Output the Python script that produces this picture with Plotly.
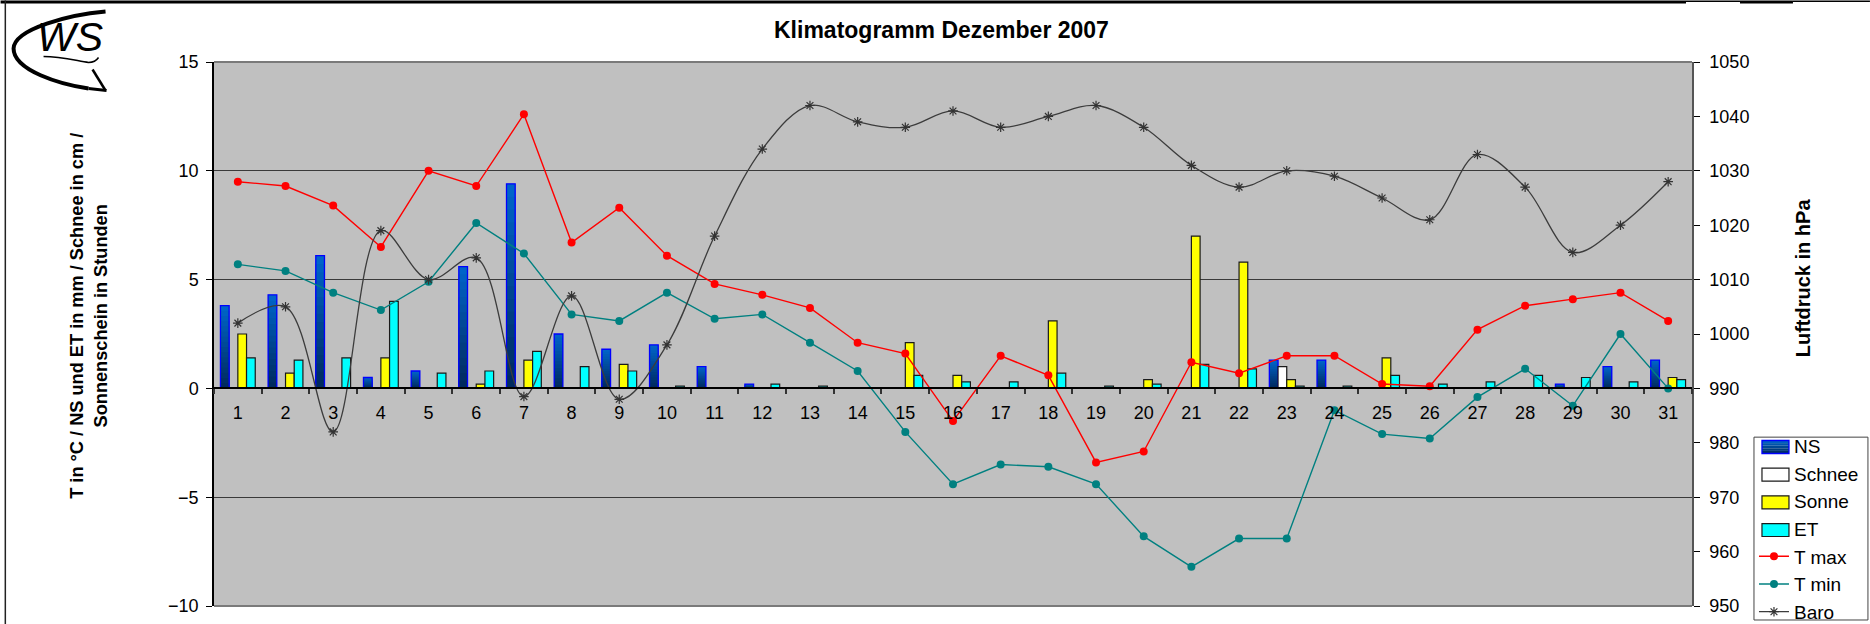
import plotly.graph_objects as go

days = [str(d) for d in range(1, 32)]
ns = [3.8, 4.3, 6.1, 0.5, 0.8, 5.6, 9.4, 2.5, 1.8, 2.0, 1.0, 0.2, 0, 0, 0, 0, 0, 0, 0, 0, 0, 0, 1.3, 1.3, 0, 0, 0, 0, 0.2, 1.0, 1.3]
schnee = [0]*22 + [1.0] + [0]*8
sonne = [2.5, 0.7, 0, 1.4, 0, 0.2, 1.3, 0, 1.1, 0, 0, 0, 0, 0, 2.1, 0.6, 0, 3.1, 0, 0.4, 7.0, 5.8, 0.4, 0, 1.4, 0, 0, 0, 0, 0, 0.5]
et = [1.4, 1.3, 1.4, 4.0, 0.7, 0.8, 1.7, 1.0, 0.8, 0.1, 0, 0.2, 0.1, 0, 0.6, 0.3, 0.3, 0.7, 0.1, 0.2, 1.1, 0.9, 0.1, 0.1, 0.6, 0.2, 0.3, 0.6, 0.5, 0.3, 0.4]
t_max = [9.5, 9.3, 8.4, 6.5, 10.0, 9.3, 12.6, 6.7, 8.3, 6.1, 4.8, 4.3, 3.7, 2.1, 1.6, -1.5, 1.5, 0.6, -3.4, -2.9, 1.2, 0.7, 1.5, 1.5, 0.2, 0.1, 2.7, 3.8, 4.1, 4.4, 3.1]
t_min = [5.7, 5.4, 4.4, 3.6, 4.9, 7.6, 6.2, 3.4, 3.1, 4.4, 3.2, 3.4, 2.1, 0.8, -2.0, -4.4, -3.5, -3.6, -4.4, -6.8, -8.2, -6.9, -6.9, -1.0, -2.1, -2.3, -0.4, 0.9, -0.8, 2.5, 0.0]
baro = [1002, 1005, 982, 1019, 1010, 1014, 988.5, 1007, 988, 998, 1018, 1034, 1042, 1039, 1038, 1041, 1038, 1040, 1042, 1038, 1031, 1027, 1030, 1029, 1025, 1021, 1033, 1027, 1015, 1020, 1028]

W, H = 1870, 624
L, R, T, B = 213.5, 1692, 61.5, 606
TOP_BLUE = (0, 102, 204)
BOTTOM_BLUE = (0, 40, 90)
N_LAYERS = 16

FONT = "Liberation Sans, Arial, sans-serif"
fig = go.Figure()


def blend(f):
    return "rgb(%d,%d,%d)" % tuple(round(b + (t - b) * f) for t, b in zip(TOP_BLUE, BOTTOM_BLUE))


# NS bars: vertical gradient built from overlaid bars sharing one slot
for i in range(N_LAYERS):
    f = 1 - i / N_LAYERS
    fig.add_trace(go.Bar(x=days, y=[v*f for v in ns], offsetgroup="NS", showlegend=False, legendgroup="NS",
                         marker=dict(color=blend(max(f - 0.5 / N_LAYERS, 0)), line=dict(width=0)), hoverinfo="skip"))
fig.add_trace(go.Bar(x=days, y=ns, name="NS", offsetgroup="NS", showlegend=False, legendgroup="NS",
                     marker=dict(color="rgba(0,0,0,0)", line=dict(color="#0000ff", width=1.3))))

# Legend entries for the bars: transparent proxies, the wide swatches below show through
for name in ["NS", "Schnee", "Sonne", "ET"]:
    fig.add_trace(go.Bar(x=[days[0]], y=[None], name=name, offsetgroup=name, legendgroup=name,
                         marker=dict(color="rgba(0,0,0,0)", line=dict(width=0))))

for name, vals, col in [("Schnee", schnee, "#ffffff"), ("Sonne", sonne, "#ffff00"), ("ET", et, "#00ffff")]:
    fig.add_trace(go.Bar(x=days, y=vals, name=name, offsetgroup=name, showlegend=False, legendgroup=name,
                         marker=dict(color=col, line=dict(color="#1a1a1a", width=1.2))))

fig.add_trace(go.Scatter(x=days, y=t_max, name="T max", mode="lines+markers",
                         line=dict(color="#ff0000", width=1.4),
                         marker=dict(symbol="circle", size=8, color="#ff0000")))
fig.add_trace(go.Scatter(x=days, y=t_min, name="T min", mode="lines+markers",
                         line=dict(color="#008080", width=1.4),
                         marker=dict(symbol="circle", size=8, color="#008080")))
fig.add_trace(go.Scatter(x=days, y=baro, name="Baro", mode="lines+markers", yaxis="y2",
                         line=dict(color="#3c3c3c", width=1.3, shape="spline", smoothing=1.0),
                         marker=dict(symbol="asterisk-open", size=8, color="#333333",
                                     line=dict(color="#333333", width=1.2))))


def px(x):
    return (x - L) / (R - L)


def py(y):
    return (B - y) / (B - T)


def rect(x0, y0, x1, y1, color, line=None, width=0):
    return dict(type="rect", xref="paper", yref="paper", x0=px(x0), x1=px(x1), y0=py(y0), y1=py(y1),
                fillcolor=color, line=dict(width=width, color=line or color), layer="above")


def path(points, width, color="#000000"):
    parts = []
    for cmd, coords in points:
        parts.append(cmd + " " + " ".join(f"{px(a):.5f},{py(b):.5f}" for a, b in coords))
    return dict(type="path", xref="paper", yref="paper", path=" ".join(parts),
                line=dict(color=color, width=width), layer="above")


LEG_ROW = 27.7
LEG_TOP = 433
row = [LEG_TOP + LEG_ROW * (i + 0.5) for i in range(7)]
SW_L, SW_R = 1762, 1789
swatches = [rect(SW_L, row[0] - 6.5 + j * 2.6, SW_R, row[0] - 6.5 + (j + 1) * 2.6, blend(1 - (j + 0.5) / 5)) for j in range(5)]
swatches += [dict(rect(SW_L, row[0] - 6.5, SW_R, row[0] + 6.5, "rgba(0,0,0,0)", "#0000ff", 1.3))]
for i, c in [(1, "#ffffff"), (2, "#ffff00"), (3, "#00ffff")]:
    swatches.append(rect(SW_L, row[i] - 6.5, SW_R, row[i] + 6.5, c, "#1a1a1a", 1.2))

shapes = [
    # plot border
    dict(type="line", xref="paper", yref="paper", x0=0, x1=1, y0=1, y1=1, line=dict(color="#7a7a7a", width=2), layer="below"),
    dict(type="line", xref="paper", yref="paper", x0=0, x1=1, y0=0, y1=0, line=dict(color="#7a7a7a", width=2), layer="below"),
    # page frame
    rect(0, 0, 1686, 3, "#000000"),
    rect(1686, 0, 1740, 1.5, "#000000"),
    rect(1740, 0, 1793, 3, "#000000"),
    rect(1793, 0, 1870, 1.5, "#000000"),
    rect(4, 0, 5.5, 624, "#222222"),
    # logo
    path([("M", [(105, 11)]), ("C", [(70, 14), (14, 28), (13, 48)]), ("C", [(13, 70), (60, 84), (88, 88)])], 4),
    path([("M", [(88, 88)]), ("L", [(106, 90)])], 3),
    path([("M", [(92, 69)]), ("L", [(105, 90)])], 2.5),
    path([("M", [(43, 56)]), ("C", [(60, 56), (75, 60), (88, 62)]), ("C", [(92, 62), (96, 60), (98, 57)])], 1.5),
    # legend box
    rect(1754, 437, 1868, 620, "#ffffff", "#444444", 1),
] + swatches
fig.update_layout(shapes=shapes)

annots = [
    dict(text="<b>Klimatogramm Dezember 2007</b>", x=941, y=29, size=23, angle=0),
    dict(text="<b>T in °C / NS und ET in mm / Schnee in cm /<br>Sonnenschein in Stunden</b>", x=89, y=316, size=18.2, angle=-90),
    dict(text="<b>Luftdruck in hPa</b>", x=1803, y=277, size=20, angle=-90),
    dict(text="<i>WS</i>", x=69, y=36, size=41, angle=0),
]
fig.update_layout(annotations=[
    dict(text=a["text"], x=px(a["x"]), y=py(a["y"]), xref="paper", yref="paper", showarrow=False,
         xanchor="center", yanchor="middle", textangle=a["angle"], align="center",
         font=dict(family=FONT, size=a["size"], color="#000000"))
    for a in annots
])

fig.update_layout(
    width=W, height=H,
    margin=dict(l=L, r=W - R, t=T, b=H - B, pad=0, autoexpand=False),
    paper_bgcolor="#ffffff", plot_bgcolor="#c0c0c0",
    barmode="group", bargap=0.27, bargroupgap=0,
    font=dict(family=FONT, size=18, color="#000000"),
    hovermode=False,
    legend=dict(x=px(1754), y=py(426.5), xanchor="left", yanchor="top",
                bgcolor="rgba(0,0,0,0)", borderwidth=0,
                font=dict(size=19), itemwidth=30, traceorder="normal", tracegroupgap=0),
    xaxis=dict(type="category", categoryorder="array", categoryarray=days, anchor="free", position=0.4, range=[-0.5, 30.5],
               showline=True, linecolor="#000000", linewidth=1.5, showgrid=False, zeroline=False,
               ticks="outside", ticklen=5, tickwidth=1.5, tickcolor="#333333", tickson="boundaries",
               ticklabelstandoff=8, tickfont=dict(size=18)),
    yaxis=dict(range=[-10, 15], tick0=-10, dtick=5, showline=True, linecolor="#000000", linewidth=1.5,
               showgrid=True, gridcolor="#3a3a3a", gridwidth=1.3, zeroline=False,
               ticks="outside", ticklen=6, tickcolor="#000000", ticklabelstandoff=4, tickfont=dict(size=18)),
    yaxis2=dict(range=[950, 1050], tick0=950, dtick=10, overlaying="y", side="right", showline=True,
                linecolor="#555555", linewidth=1.5, showgrid=False, zeroline=False,
                ticks="outside", ticklen=6, tickcolor="#000000", ticklabelstandoff=6, tickfont=dict(size=18)),
)

fig.write_html("out.html", config={"displayModeBar": False},
               post_script="document.body.style.margin='0';document.body.style.overflow='hidden';")
